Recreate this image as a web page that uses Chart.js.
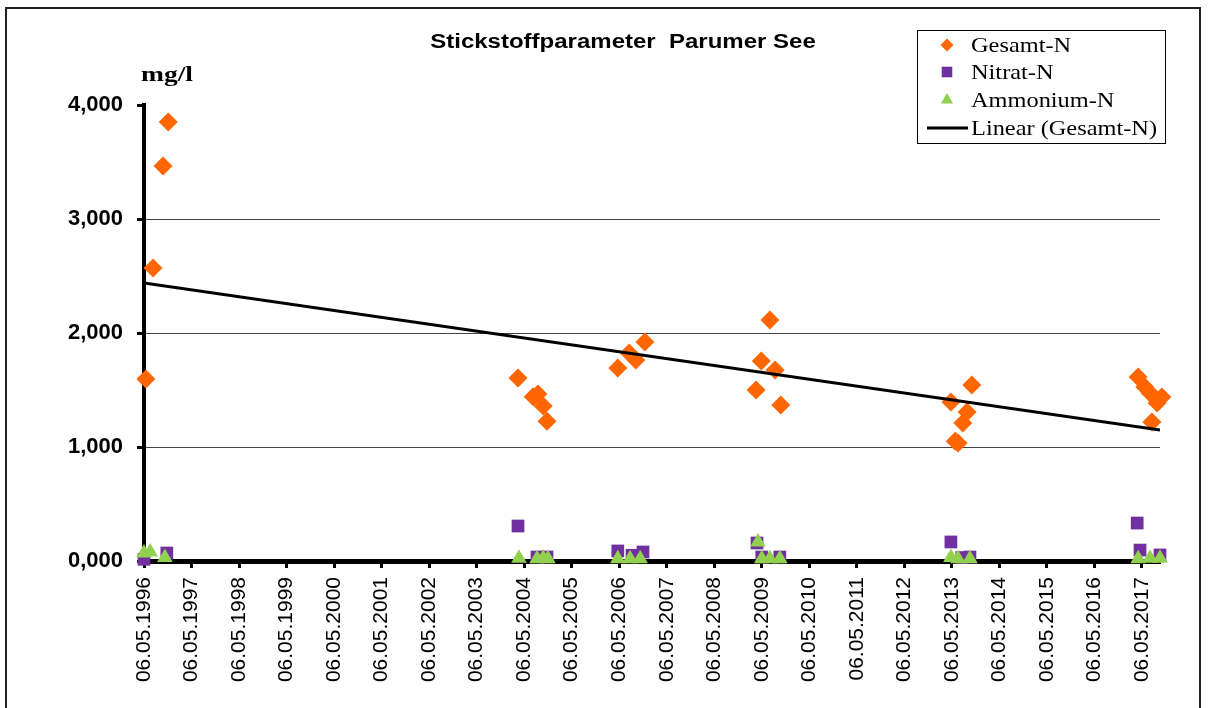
<!DOCTYPE html>
<html>
<head>
<meta charset="utf-8">
<script src="https://cdn.jsdelivr.net/npm/chart.js@4/dist/chart.umd.min.js"></script>
<style>
  body { margin: 0; background: #fff; overflow: hidden; }
  #frame { position: absolute; left: 5px; top: 7px; width: 1192px; height: 720px; border: 2px solid #222; }
  #c { position: absolute; left: 0; top: 0; }
</style>
</head>
<body>
<div id="frame"></div>
<canvas id="c" width="1210" height="708"></canvas>
<script>
// x values: years after 06.05.1996
const tickLabels = ['06.05.1996', '06.05.1997', '06.05.1998', '06.05.1999', '06.05.2000', '06.05.2001',
    '06.05.2002', '06.05.2003', '06.05.2004', '06.05.2005', '06.05.2006', '06.05.2007', '06.05.2008',
    '06.05.2009', '06.05.2010', '06.05.2011', '06.05.2012', '06.05.2013', '06.05.2014', '06.05.2015',
    '06.05.2016', '06.05.2017'];
const yTicks = [0, 1, 2, 3, 4];

const gesamtX = [0.04, 0.19, 0.40, 0.51, 7.87, 8.19, 8.29, 8.40, 8.48, 9.97, 10.21, 10.35, 10.54,
    12.88, 12.99, 13.17, 13.28, 13.40, 16.98, 17.07, 17.13, 17.23, 17.32, 17.42,
    20.92, 21.06, 21.17, 21.21, 21.32, 21.42];
const gesamtY = [1.596, 2.570, 3.465, 3.851, 1.605, 1.440, 1.465, 1.360, 1.225, 1.693, 1.825, 1.763, 1.921,
    1.500, 1.754, 2.114, 1.675, 1.368, 1.395, 1.050, 1.035, 1.211, 1.307, 1.544,
    1.614, 1.526, 1.474, 1.219, 1.386, 1.439];

const nitratX = [0.0, 0.48, 7.87, 8.27, 8.48, 9.97, 10.27, 10.50, 12.90, 13.00, 13.38, 16.98, 17.21, 17.38, 20.90, 20.96, 21.38];
const nitratY = [0.015, 0.070, 0.307, 0.035, 0.035, 0.088, 0.050, 0.079, 0.158, 0.035, 0.035, 0.167, 0.030, 0.035, 0.333, 0.096, 0.053];

const ammonX = [0.0, 0.13, 0.44, 7.89, 8.27, 8.40, 8.50, 9.97, 10.23, 10.44, 12.92, 13.00, 13.17, 13.38, 16.98, 17.13, 17.38, 20.92, 21.17, 21.38];
const ammonY = [0.070, 0.080, 0.030, 0.025, 0.020, 0.025, 0.020, 0.020, 0.020, 0.020, 0.167, 0.020, 0.020, 0.020, 0.030, 0.020, 0.020, 0.020, 0.025, 0.025];

// trendline end points
const trendX = [0, 21.38];
const trendY = [2.439, 1.149];

const seriesNames = ['Gesamt-N', 'Nitrat-N', 'Ammonium-N', 'Linear (Gesamt-N)'];
const colors = ['#FF6600', '#7030A0', '#92D050', '#000000'];

const pairs = (xs, ys) => xs.map((x, i) => ({x: x, y: ys[i]}));
const sans = '"Liberation Sans", Arial, sans-serif';
const serif = '"Liberation Serif", "Times New Roman", serif';

const overlay = {
    id: 'overlay',
    afterDraw(chart) {
        const ctx = chart.ctx;
        ctx.save();
        ctx.fillStyle = '#000';
        ctx.textBaseline = 'middle';

        // title
        ctx.save();
        ctx.font = 'bold 20px ' + sans;
        ctx.textAlign = 'center';
        ctx.translate(623, 42);
        ctx.scale(1.2, 1);
        ctx.fillText('Stickstoffparameter  Parumer See', 0, 0);
        ctx.restore();

        // unit
        ctx.save();
        ctx.font = 'bold 22px ' + serif;
        ctx.textAlign = 'left';
        ctx.translate(141, 75);
        ctx.scale(1.25, 1);
        ctx.fillText('mg/l', 0, 0);
        ctx.restore();

        // legend
        ctx.strokeStyle = '#000';
        ctx.lineWidth = 1;
        ctx.strokeRect(917.5, 30.5, 248, 113);
        const rows = [45, 72, 100, 128];
        const styles = [
            {pointStyle: 'rectRot', radius: 6.5},
            {pointStyle: 'rect', radius: 7.5},
            {pointStyle: 'triangle', radius: 7}
        ];
        for (let i = 0; i < 4; ++i) {
            if (i < 3) {
                ctx.fillStyle = colors[i];
                Chart.helpers.drawPoint(ctx, {pointStyle: styles[i].pointStyle, radius: styles[i].radius, rotation: 0, borderWidth: 0}, 947, rows[i]);
            } else {
                ctx.strokeStyle = '#000';
                ctx.lineWidth = 3;
                ctx.beginPath();
                ctx.moveTo(927, rows[i]);
                ctx.lineTo(968, rows[i]);
                ctx.stroke();
            }
            ctx.save();
            ctx.fillStyle = '#000';
            ctx.font = '21px ' + serif;
            ctx.textAlign = 'left';
            ctx.translate(971, rows[i] + 1);
            ctx.scale(1.16, 1);
            ctx.fillText(seriesNames[i], 0, 0);
            ctx.restore();
        }
        ctx.restore();
    }
};

new Chart(document.getElementById('c'), {
    type: 'scatter',
    data: {
        datasets: [
            {label: seriesNames[0], data: pairs(gesamtX, gesamtY), pointStyle: 'rectRot', pointRadius: 9.5,
                backgroundColor: colors[0], borderWidth: 0, order: 3, clip: false},
            {label: seriesNames[1], data: pairs(nitratX, nitratY), pointStyle: 'rect', pointRadius: 9,
                backgroundColor: colors[1], borderWidth: 0, order: 2, clip: false},
            {label: seriesNames[2], data: pairs(ammonX, ammonY), pointStyle: 'triangle', pointRadius: 9,
                backgroundColor: colors[2], borderWidth: 0, order: 1, clip: false},
            {label: seriesNames[3], data: pairs(trendX, trendY), showLine: true, pointRadius: 0,
                borderColor: colors[3], borderWidth: 3, order: 0}
        ]
    },
    options: {
        responsive: false,
        animation: false,
        events: [],
        layout: {padding: {left: 0, top: 105, right: 50, bottom: 0}},
        plugins: {legend: {display: false}, title: {display: false}, tooltip: {enabled: false}},
        scales: {
            x: {
                type: 'linear', min: 0, max: 21.38,
                afterBuildTicks: s => { s.ticks = tickLabels.map((t, i) => ({value: i})); },
                afterFit: s => { s.height = 147; },
                ticks: {
                    autoSkip: false, maxRotation: 90, minRotation: 90, padding: 9, color: '#000',
                    font: {family: sans, size: 21},
                    callback: (v, i) => tickLabels[i]
                },
                grid: {drawOnChartArea: false, drawTicks: true, tickLength: 7, tickColor: '#000', tickWidth: 3},
                border: {display: true, color: '#000', width: 5}
            },
            y: {
                min: 0, max: 4,
                afterBuildTicks: s => { s.ticks = yTicks.map(v => ({value: v})); },
                afterFit: s => { s.width = 144; },
                ticks: {
                    padding: 14, color: '#000',
                    font: {family: sans, size: 22, weight: 'bold'},
                    callback: v => v.toFixed(3).replace('.', ',')
                },
                grid: {
                    color: c => (c.tick && c.tick.value > 0 && c.tick.value < 4) ? '#444' : 'rgba(0,0,0,0)',
                    lineWidth: 1, tickColor: '#000', tickLength: 7, tickWidth: 3
                },
                border: {display: true, color: '#000', width: 4}
            }
        }
    },
    plugins: [overlay]
});
</script>
</body>
</html>
